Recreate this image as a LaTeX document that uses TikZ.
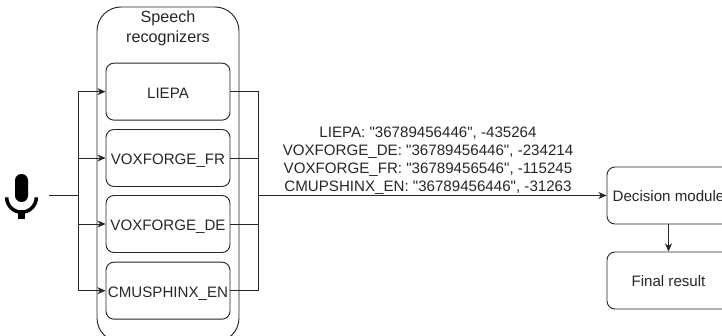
\documentclass[tikz,border=0pt]{standalone}
\usepackage{fontspec}
\setmainfont[Ligatures=TeXOff]{Liberation Sans}
\usetikzlibrary{arrows.meta}
\tikzset{
  box/.style={draw,rounded corners=0.24cm,align=center,minimum width=3.72cm,minimum height=1.71cm,inner sep=0pt,text height=13pt,text depth=2pt},
  txt/.style={align=center,font=\fontsize{12.9pt}{15.3pt}\selectfont}
}
\begin{document}
\begin{tikzpicture}[>={Stealth[length=7pt,width=6pt]},line width=0.8pt,color=black!85]
\useasboundingbox (0,0) rectangle (21.66,-10.08);
\clip (0,0) rectangle (21.66,-10.08);

\node[draw,rounded corners=0.72cm,minimum width=4.26cm,minimum height=10.05cm] (group) at (5.04,-5.235) {};
\node[align=center,font=\fontsize{13.8pt}{17pt}\selectfont] (title) at (5.04,-0.86) {Speech\\recognizers};

\node[box,txt] (liepa) at (5.04,-2.75) {LIEPA};
\node[box,txt] (fr) at (5.04,-4.74) {VOXFORGE\_FR};
\node[box,txt] (de) at (5.04,-6.72) {VOXFORGE\_DE};
\node[box,txt] (cmu) at (5.04,-8.72) {CMUSPHINX\_EN};

\node[box,txt,minimum width=3.69cm] (decision) at (20.055,-5.865) {Decision module};
\node[box,txt,minimum width=3.69cm] (final) at (20.055,-8.415) {Final result};

\node[txt] (scores) at (12.84,-4.82) {LIEPA: "36789456446", -435264\\VOXFORGE\_DE: "36789456446", -234214\\VOXFORGE\_FR: "36789456546", -115245\\CMUPSHINX\_EN: "36789456446", -31263};

\coordinate (mic) at (1.47,-5.865);
\coordinate (split) at (2.34,-5.865);
\coordinate (merge) at (7.74,-5.865);

% microphone
\fill[black,rounded corners=0.19cm] (0.45,-5.22) rectangle (0.84,-6.06);
\draw[black,line width=3pt] (0.2,-5.92) arc[start angle=180,end angle=360,radius=0.445];
\fill[black] (0.55,-6.3) rectangle (0.74,-6.56);

\draw (mic) -- (split);
\draw[->] (split) |- (liepa.west);
\draw[->] (split) |- (fr.west);
\draw[->] (split) |- (de.west);
\draw[->] (split) |- (cmu.west);

\draw (liepa.east) -| (merge);
\draw (fr.east) -| (merge);
\draw (de.east) -| (merge);
\draw (cmu.east) -| (merge);

\draw[->] (merge) -- (decision.west);
\draw[->] (decision) -- (final);
\end{tikzpicture}
\end{document}
